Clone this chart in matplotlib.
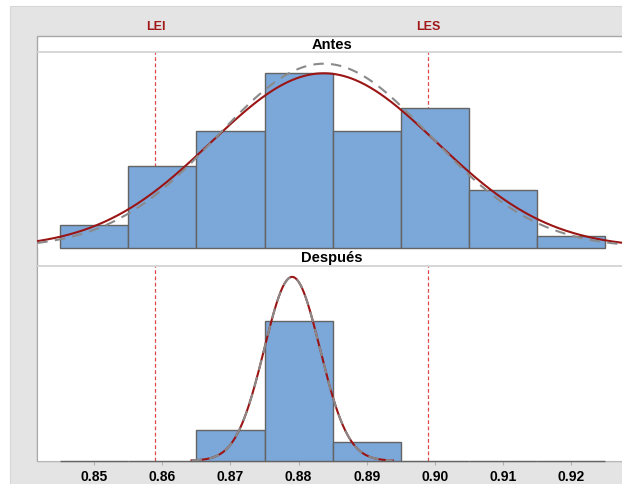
import numpy as np
import matplotlib
matplotlib.use("Agg")
import matplotlib.pyplot as plt
from matplotlib.patches import Rectangle
import matplotlib.transforms as mtransforms

# ---- data ----
bin_centers = [0.85, 0.86, 0.87, 0.88, 0.89, 0.90, 0.91, 0.92]
counts_antes = [2, 7, 10, 15, 10, 12, 5, 1]
counts_despues = [0, 0, 5, 23, 3, 0, 0, 0]
tick_values = [0.85, 0.86, 0.87, 0.88, 0.89, 0.90, 0.91, 0.92]
tick_labels = ["0.85", "0.86", "0.87", "0.88", "0.89", "0.90", "0.91", "0.92"]
spec_values = [0.859, 0.899]
spec_labels = ["LEI", "LES"]
panel_titles = ["Antes", "Después"]
# fitted normal parameters (mean, overall sd, within sd)
antes_fit = (0.8837, 0.01652, 0.01566)
despues_fit = (0.87905, 0.0041, 0.0041)

bin_width = 0.01

W, H = 622, 485
fig = plt.figure(figsize=(W / 100, H / 100), dpi=100)
fig.patch.set_facecolor("white")

def fx(px):
    return px / W

def fy(py):
    return 1 - py / H

# gray background panel
fig.patches.append(Rectangle((fx(10), 0), 1 - fx(10), fy(6.7), transform=fig.transFigure,
                             facecolor="#e4e4e4", edgecolor="#d6d6d6", lw=0.8, zorder=-3))
# white plotting frame
fig.patches.append(Rectangle((fx(37.3), fy(461.7)), 1.1, fy(37.3) - fy(461.7), transform=fig.transFigure,
                             facecolor="white", edgecolor="#a8a8a8", lw=1.0, zorder=-2))

left = fx(37.3)
width = fx(626) - left
ax1 = fig.add_axes([left, fy(249), width, fy(53.3) - fy(249)])
ax2 = fig.add_axes([left, fy(461.7), width, fy(266.7) - fy(461.7)])
ax1.set_zorder(2)
ax2.set_zorder(2)

xlim = (0.84166, 0.92804)
ylims = [(0, 16.77), (0, 32.0)]
bar_color = "#7ba7d9"
edge_color = "#646464"
red = "#9b1515"
spec_red = "#e04848"

for i, (ax, counts, fit) in enumerate([(ax1, counts_antes, antes_fit), (ax2, counts_despues, despues_fit)]):
    ax.set_xlim(*xlim)
    ax.set_ylim(*ylims[i])
    ax.set_facecolor("white")
    for sv in spec_values:
        ax.axvline(sv, color=spec_red, lw=0.9, ls=(0, (3, 2)), zorder=1)
    bars = ax.bar(bin_centers, counts, width=bin_width, color=bar_color, edgecolor=edge_color,
                  linewidth=1.0, zorder=3)
    for b in bars:
        b.set_clip_on(False)
    n = sum(counts)
    mu, sd_o, sd_w = fit
    xs = np.linspace(max(xlim[0], mu - 3.6 * sd_o), min(xlim[1], mu + 3.6 * sd_o), 600)
    y_over = n * bin_width * np.exp(-0.5 * ((xs - mu) / sd_o) ** 2) / (sd_o * np.sqrt(2 * np.pi))
    y_with = n * bin_width * np.exp(-0.5 * ((xs - mu) / sd_w) ** 2) / (sd_w * np.sqrt(2 * np.pi))
    ax.plot(xs, y_over, color=red, lw=1.5, zorder=4)
    ax.plot(xs, y_with, color="#8a8a8a", lw=1.5, ls=(0, (5, 3.5)), zorder=5)
    ax.set_yticks([])
    ax.spines["right"].set_visible(False)
    ax.spines["left"].set_color("#a8a8a8")
    ax.spines["top"].set_color("#d0d0d0")
    ax.spines["top"].set_linewidth(1.2)
    ax.spines["bottom"].set_color("#b8b8b8")

ax1.spines["bottom"].set_visible(False)
ax1.set_xticks([])
ax2.set_xticks(tick_values)
ax2.set_xticklabels(tick_labels, fontsize=10, fontweight="bold", family="Liberation Sans")
ax2.tick_params(axis="x", length=3, color="#b0b0b0", pad=3)

# strip titles
fig.text((left + fx(626)) / 2, fy(45.3), panel_titles[0], ha="center", va="center",
         fontsize=10.5, fontweight="bold", family="Liberation Sans")
fig.text((left + fx(626)) / 2, fy(258), panel_titles[1], ha="center", va="center",
         fontsize=10.5, fontweight="bold", family="Liberation Sans")

# spec labels
trans = mtransforms.blended_transform_factory(ax1.transData, fig.transFigure)
for sv, lab in zip(spec_values, spec_labels):
    fig.text(sv, fy(27.3), lab, transform=trans, ha="center", va="center",
             fontsize=9, fontweight="bold", color="#a01818", family="Liberation Sans")

fig.savefig("out.png", dpi=100)
